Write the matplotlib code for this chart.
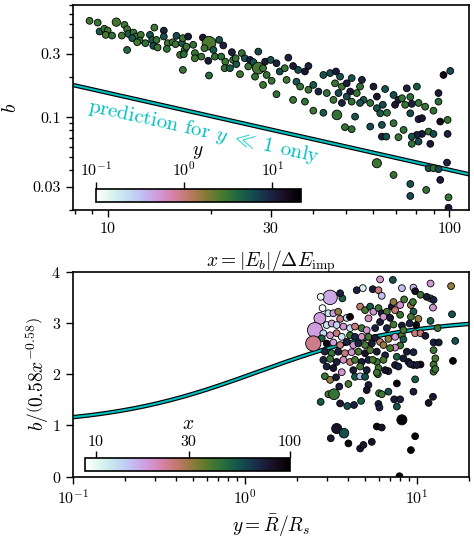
import numpy as np
import matplotlib
matplotlib.use("Agg")
import matplotlib.pyplot as plt
from matplotlib.colors import LogNorm
from matplotlib.ticker import FixedLocator, FixedFormatter, LogLocator, NullFormatter

plt.rcParams['font.family'] = 'serif'
plt.rcParams['font.serif'] = ['cmr10']
plt.rcParams['mathtext.fontset'] = 'cm'
plt.rcParams['axes.formatter.use_mathtext'] = True
plt.rcParams['axes.unicode_minus'] = False

# ---- top panel: b against x, colour = y ----
top_x = [8.85, 9.35, 10.6, 11.2, 9.47, 9.78, 10.0, 9.87, 10.3, 11.0,
         11.4, 11.5, 11.9, 12.1, 11.8, 12.5, 12.4, 12.2, 12.9, 13.3,
         13.7, 13.5, 13.9, 13.6, 14.0, 14.6, 14.6, 15.0, 14.9, 15.5,
         15.9, 15.8, 16.5, 16.8, 16.3, 11.4, 16.6, 16.6, 17.2, 17.8,
         17.0, 16.7, 18.0, 19.0, 19.8, 19.2, 20.4, 21.2, 21.8, 19.7,
         18.8, 20.6, 21.5, 22.1, 22.0, 19.8, 23.1, 23.3, 23.8, 24.4,
         24.7, 25.2, 26.1, 25.8, 26.7, 27.6, 27.6, 27.0, 28.5, 28.9,
         30.0, 31.2, 29.2, 28.5, 30.2, 31.9, 31.2, 23.7, 22.8, 18.0,
         33.0, 34.9, 36.1, 38.7, 37.8, 33.4, 35.7, 36.6, 38.7, 40.0,
         42.8, 44.8, 46.6, 46.3, 47.9, 41.4, 43.8, 47.4, 48.5, 50.1,
         51.8, 55.5, 54.8, 51.3, 50.1, 53.6, 56.1, 58.7, 61.4, 34.9,
         37.8, 45.8, 48.5, 51.8, 54.8, 40.0, 42.8, 46.9, 53.0, 58.7,
         49.5, 51.8, 61.4, 60.0, 64.9, 75.1, 80.4, 68.7, 71.0, 72.7,
         76.9, 69.4, 74.3, 77.7, 81.3, 85.0, 89.9, 93.0, 93.0, 94.1,
         98.9, 61.4, 63.9, 65.7, 62.8, 76.9, 81.3, 83.2, 68.7, 63.5,
         73.5, 83.2, 80.4, 87.0, 89.9, 77.7, 71.0, 63.5, 65.4, 81.3,
         77.7, 88.0, 98.9, 68.7, 98.5, 87.0, 89.9, 93.0, 94.1, 76.9,
         85.6, 76.9, 99.5, 99.5, 96.2, 100.7, 33.8]
top_b = [0.532, 0.516, 0.520, 0.496, 0.442, 0.463, 0.449, 0.417, 0.412, 0.412,
         0.460, 0.424, 0.434, 0.405, 0.394, 0.417, 0.378, 0.367, 0.361, 0.417,
         0.473, 0.382, 0.382, 0.345, 0.335, 0.449, 0.405, 0.361, 0.327, 0.367,
         0.410, 0.355, 0.361, 0.321, 0.295, 0.321, 0.227, 0.394, 0.405, 0.351,
         0.340, 0.298, 0.304, 0.398, 0.361, 0.331, 0.321, 0.382, 0.347, 0.266,
         0.286, 0.286, 0.286, 0.262, 0.234, 0.206, 0.309, 0.270, 0.251, 0.211,
         0.304, 0.278, 0.270, 0.241, 0.260, 0.312, 0.234, 0.202, 0.234, 0.262,
         0.270, 0.255, 0.208, 0.175, 0.188, 0.221, 0.149, 0.278, 0.234, 0.278,
         0.234, 0.243, 0.227, 0.243, 0.221, 0.191, 0.185, 0.170, 0.161, 0.175,
         0.208, 0.215, 0.221, 0.180, 0.202, 0.156, 0.152, 0.152, 0.170, 0.180,
         0.197, 0.191, 0.170, 0.156, 0.143, 0.152, 0.135, 0.128, 0.143, 0.135,
         0.131, 0.135, 0.128, 0.131, 0.128, 0.112, 0.108, 0.104, 0.101, 0.0850,
         0.0841, 0.0812, 0.0450, 0.170, 0.163, 0.165, 0.170, 0.147, 0.135, 0.139,
         0.142, 0.124, 0.124, 0.126, 0.128, 0.120, 0.112, 0.131, 0.152, 0.0927,
         0.0954, 0.117, 0.124, 0.108, 0.107, 0.107, 0.0966, 0.0983, 0.0901, 0.0875,
         0.0802, 0.0748, 0.0736, 0.0779, 0.0748, 0.0714, 0.0707, 0.0714, 0.0714, 0.0655,
         0.0630, 0.0630, 0.0748, 0.0367, 0.0455, 0.0413, 0.0413, 0.0406, 0.0337, 0.0314,
         0.0283, 0.0255, 0.0249, 0.0208, 0.208, 0.223, 0.281]
top_y = [2.9, 3.1, 2.8, 3.0, 5.0, 3.2, 3.0, 2.7, 3.3, 3.0,
         3.1, 4.8, 3.4, 2.9, 5.2, 3.0, 3.2, 2.8, 3.5, 5.5,
         3.0, 5.0, 3.3, 6.0, 3.1, 10.0, 5.5, 3.0, 3.4, 2.9,
         6.0, 3.2, 5.0, 3.6, 3.0, 4.0, 3.2, 3.0, 11.0, 3.3,
         3.0, 3.5, 3.2, 12.0, 2.6, 3.0, 5.0, 5.5, 10.0, 11.0,
         3.1, 3.3, 3.5, 3.0, 3.4, 3.8, 10.0, 3.2, 5.0, 3.0,
         3.3, 5.5, 10.5, 3.1, 5.5, 6.0, 2.8, 3.2, 3.0, 11.0,
         5.5, 10.0, 3.3, 3.0, 3.2, 6.0, 3.4, 3.1, 5.0, 3.0,
         3.2, 11.0, 6.0, 10.0, 12.0, 3.0, 5.5, 3.3, 3.1, 5.0,
         5.5, 6.0, 11.0, 3.2, 5.5, 10.0, 3.4, 6.0, 3.0, 11.0,
         5.5, 10.0, 3.3, 11.0, 6.0, 3.2, 5.0, 3.5, 12.0, 3.0,
         3.3, 3.1, 10.0, 3.4, 5.5, 3.0, 5.0, 3.2, 5.5, 6.0,
         3.2, 3.5, 3.0, 11.0, 5.5, 10.0, 5.0, 6.0, 11.0, 3.3,
         3.5, 12.0, 3.2, 10.0, 3.4, 3.1, 3.3, 3.5, 11.0, 17.0,
         3.2, 5.5, 6.0, 3.4, 5.0, 6.0, 10.0, 12.0, 3.2, 5.5,
         3.3, 11.0, 10.0, 3.4, 6.0, 5.5, 3.1, 10.0, 5.5, 6.0,
         3.3, 11.0, 10.0, 3.2, 10.0, 5.5, 3.4, 6.0, 11.0, 5.5,
         3.3, 6.0, 3.2, 12.0, 17.0, 6.0, 10.0]
top_w = [1, 1, 1.5, 1, 1, 1, 1, 1, 1, 1,
         1, 1, 1, 1, 1, 1, 1, 1, 1, 1,
         1, 1, 1, 1, 1, 1, 1, 1, 1, 1,
         1, 1, 1, 1, 1, 1, 1, 1, 1, 1,
         1, 1, 1, 1, 4, 1, 1, 1, 1, 1,
         1, 1, 1, 1, 1, 1, 1, 1, 1, 1,
         1, 1, 1, 1, 1, 1, 3, 1, 1, 1,
         1, 1, 1, 1, 1, 1, 1, 1, 1, 1,
         1, 1, 1, 1, 1, 1, 1, 1, 1, 1,
         1, 1, 1, 1, 1, 1, 1, 1, 1, 1,
         1, 1, 1, 1, 1, 1, 1, 1, 1, 1,
         1, 1, 1, 1, 1, 1, 1, 2.0, 1, 1,
         1, 1, 1.8, 1, 1, 1, 1, 1, 1, 1,
         1, 1, 1, 1, 1, 1, 1, 1, 1, 1,
         1, 1, 1, 1, 1, 1, 1, 1, 1, 1,
         1, 1, 1, 1, 1, 1, 1, 1, 1, 1,
         1, 1, 1, 1, 1, 1, 1, 1, 1, 1,
         1, 1, 1, 1, 1, 1, 1]

# ---- bottom panel: b/(0.58 x^-0.58) against y, colour = x ----
bot_y = [6.11, 7.25, 12.0, 15.8, 4.85, 4.47, 5.54, 5.98, 6.25, 8.18,
         9.55, 9.77, 10.5, 3.13, 2.76, 3.69, 2.83, 2.73, 3.06, 3.27,
         3.49, 3.58, 3.91, 4.09, 4.68, 5.00, 5.35, 5.59, 5.98, 6.25,
         5.23, 6.11, 2.99, 3.20, 3.42, 3.74, 4.09, 4.37, 4.78, 5.11,
         5.72, 2.56, 2.86, 3.13, 3.42, 3.66, 4.09, 4.37, 4.78, 5.23,
         5.72, 2.80, 2.50, 2.99, 3.27, 3.58, 3.91, 4.27, 4.57, 5.00,
         5.47, 6.11, 2.92, 3.20, 3.49, 3.82, 4.18, 4.57, 5.00, 5.35,
         5.85, 2.86, 3.13, 3.42, 3.74, 4.09, 4.37, 4.78, 5.23, 5.85,
         2.99, 3.27, 3.66, 4.27, 4.68, 5.11, 5.98, 7.15, 7.47, 7.99,
         9.23, 9.48, 12.0, 12.5, 12.4, 6.69, 9.55, 6.39, 6.99, 7.99,
         9.23, 10.2, 16.0, 12.0, 9.06, 9.91, 8.18, 7.31, 6.69, 13.2,
         9.77, 10.5, 11.2, 8.18, 7.47, 6.83, 12.5, 13.4, 16.7, 7.99,
         7.47, 6.39, 6.99, 8.74, 9.55, 12.5, 6.54, 7.65, 8.93, 10.5,
         9.55, 12.5, 16.2, 7.47, 6.83, 12.5, 6.39, 2.92, 3.13, 3.54,
         4.00, 4.37, 4.68, 5.00, 5.23, 5.93, 3.06, 3.30, 2.76, 3.58,
         3.94, 4.31, 4.74, 5.11, 6.03, 5.98, 6.06, 3.42, 3.77, 3.16,
         4.00, 4.68, 4.89, 5.47, 5.85, 6.25, 7.65, 6.83, 7.38, 7.99,
         7.65, 9.77, 9.55, 12.4, 11.7, 6.25, 8.18, 9.77, 9.23, 7.92,
         3.39, 5.54, 8.35, 7.81, 6.54, 5.85, 9.14, 10.0, 12.8, 12.8,
         11.4, 8.43, 7.31, 3.58, 8.35, 8.35]
bot_r = [3.85, 3.84, 3.77, 3.72, 3.68, 3.64, 3.66, 3.64, 3.53, 3.68,
         3.69, 3.62, 3.55, 3.50, 3.51, 3.48, 3.29, 3.09, 3.19, 3.19,
         3.22, 3.08, 3.10, 3.12, 3.32, 3.25, 3.32, 3.22, 3.29, 3.19,
         3.09, 3.02, 2.96, 2.99, 2.96, 2.93, 2.90, 2.93, 2.90, 2.86,
         2.90, 2.86, 2.80, 2.76, 2.80, 2.73, 2.76, 2.73, 2.73, 2.73,
         2.71, 2.70, 2.60, 2.60, 2.62, 2.57, 2.63, 2.57, 2.60, 2.57,
         2.60, 2.63, 2.44, 2.41, 2.44, 2.41, 2.43, 2.44, 2.41, 2.47,
         2.44, 2.28, 2.30, 2.24, 2.28, 2.24, 2.28, 2.24, 2.28, 2.24,
         2.15, 2.12, 2.04, 2.08, 2.15, 2.08, 2.12, 3.32, 3.25, 3.35,
         3.35, 3.41, 3.48, 3.45, 3.30, 3.22, 3.22, 3.12, 3.10, 3.16,
         3.12, 3.08, 3.17, 3.04, 2.99, 2.96, 2.95, 2.97, 2.90, 2.90,
         2.80, 2.80, 2.75, 2.76, 2.73, 2.69, 2.62, 2.62, 2.65, 2.56,
         2.52, 2.57, 2.51, 2.44, 2.43, 2.47, 2.37, 2.34, 2.24, 2.19,
         2.18, 2.19, 2.26, 2.18, 2.06, 2.05, 2.28, 1.96, 1.89, 1.76,
         1.81, 1.95, 1.96, 1.95, 1.79, 2.00, 1.61, 1.61, 1.46, 1.43,
         1.38, 1.40, 1.48, 1.69, 1.63, 1.42, 1.35, 0.94, 0.85, 0.75,
         0.65, 0.55, 0.62, 0.68, 0.98, 0.96, 1.82, 1.66, 1.51, 1.51,
         1.37, 1.90, 1.66, 1.56, 1.44, 1.61, 1.11, 0.79, 0.52, 0.01,
         1.94, 2.28, 2.31, 2.15, 2.08, 2.03, 2.20, 2.18, 2.31, 2.10,
         3.51, 3.46, 3.41, 3.58, 2.86, 2.68]
bot_x = [19, 55, 19, 31, 11, 72, 75, 25, 15, 15,
         16, 85, 42, 17, 9.5, 50, 9.0, 18, 12, 18,
         31, 25, 12.5, 92, 26, 40, 52, 19, 42, 72,
         20, 75, 12, 18, 13, 19, 12.5, 25, 40, 19,
         72, 18, 13, 19, 25, 12, 42, 70, 20, 40,
         75, 50, 24, 95, 18, 25, 72, 19, 70, 40,
         75, 26, 70, 42, 72, 25, 19, 40, 80, 38,
         75, 70, 42, 72, 20, 26, 40, 75, 70, 42,
         72, 80, 19, 75, 40, 72, 42, 75, 25, 19,
         31, 42, 40, 72, 19, 40, 52, 19, 75, 42,
         40, 31, 55, 50, 72, 92, 75, 40, 72, 42,
         25, 26, 75, 40, 19, 31, 72, 75, 55, 42,
         20, 31, 40, 75, 72, 42, 72, 50, 75, 92,
         72, 42, 95, 75, 72, 42, 40, 42, 31, 72,
         40, 52, 15, 55, 75, 42, 40, 42, 52, 75,
         55, 72, 52, 80, 42, 75, 72, 80, 55, 75,
         92, 80, 78, 80, 95, 80, 95, 55, 75, 72,
         55, 52, 75, 78, 80, 40, 95, 95, 95, 95,
         75, 40, 75, 72, 80, 42, 72, 75, 40, 42,
         75, 40, 31, 72, 40, 52]
bot_w = [1, 1, 1, 1, 1, 1, 1, 1, 1, 1,
         1, 1, 1, 4.5, 1, 1, 1, 3, 1, 1,
         1, 1, 1, 1, 1, 1, 1, 1, 1, 1,
         1, 1, 1, 1, 1, 1, 1, 1, 1, 1,
         1, 5, 1, 1, 1, 1, 1, 1, 1, 1,
         1, 1, 5, 1, 1, 1, 1, 1, 1, 1,
         1, 1, 1, 1, 1, 1, 1, 1, 1, 1,
         1, 1, 1, 1, 1, 1, 1, 1, 1, 1,
         1, 1, 1, 1, 1, 1, 1, 1, 1, 1,
         1, 1, 1, 1, 1, 1, 1, 1, 1, 1,
         1, 1, 1, 1, 1, 1, 1, 1, 1, 1,
         1, 1, 1, 1, 1, 1, 1, 1, 1, 1,
         1, 1, 1, 1, 1, 1, 1, 1, 1, 1,
         1, 1, 1, 1, 1, 1, 1, 1, 1, 1,
         1, 1, 1, 1, 1, 1, 1, 2.5, 1, 1,
         1, 1, 1, 1, 1, 1, 1, 2.2, 2, 1,
         1, 1, 1, 1, 1, 1, 1, 1, 1, 1,
         1, 1, 1, 1, 1, 1, 2.2, 1, 1, 1,
         1, 1, 1, 1, 1, 1, 1, 1, 1, 1,
         1, 1, 1, 1, 1, 1]


def b_small_y(x):
    return 0.58 * x ** -0.58


def ratio_pred(y):
    return 1 + 2.1 * y / (y + 1.2)


fig = plt.figure(figsize=(4.74, 5.38), dpi=100)
ax1 = fig.add_axes([0.1534, 0.6097, 0.8354, 0.381])
ax2 = fig.add_axes([0.1534, 0.1139, 0.8354, 0.381])

base_s = 24
sc1 = ax1.scatter(top_x, top_b, c=top_y, s=base_s * np.array(top_w),
                  cmap='cubehelix_r', norm=LogNorm(0.1, 21),
                  edgecolors='k', linewidths=0.6, zorder=3)
xs = np.logspace(np.log10(7), np.log10(120), 200)
ax1.plot(xs, b_small_y(xs), color='k', lw=3.2, zorder=2)
ax1.plot(xs, b_small_y(xs), color='c', lw=1.5, zorder=2.1)
ax1.text(0.038, 0.48, r'prediction for $y\;\ll\;1$ only', transform=ax1.transAxes,
         rotation=-12.5, rotation_mode='anchor', color='c', fontsize=15,
         ha='left', va='baseline')

ax1.set_xscale('log')
ax1.set_yscale('log')
ax1.set_xlim(7.9, 114)
ax1.set_ylim(0.02, 0.70)
ax1.xaxis.set_major_locator(FixedLocator([10, 30, 100]))
ax1.xaxis.set_major_formatter(FixedFormatter(['10', '30', '100']))
ax1.xaxis.set_minor_locator(LogLocator(subs=np.arange(2, 10)))
ax1.xaxis.set_minor_formatter(NullFormatter())
ax1.yaxis.set_major_locator(FixedLocator([0.03, 0.1, 0.3]))
ax1.yaxis.set_major_formatter(FixedFormatter(['0.03', '0.1', '0.3']))
ax1.yaxis.set_minor_locator(LogLocator(subs=np.arange(2, 10)))
ax1.yaxis.set_minor_formatter(NullFormatter())
ax1.set_xlabel(r'$x = |E_b|/\Delta E_{\rm imp}$', fontsize=14, labelpad=9)
ax1.set_ylabel(r'$b$', fontsize=14, labelpad=9)

sc2 = ax2.scatter(bot_y, bot_r, c=bot_x, s=base_s * np.array(bot_w),
                  cmap='cubehelix_r', norm=LogNorm(8.8, 100),
                  edgecolors='k', linewidths=0.6, zorder=3)
ys = np.logspace(-1, np.log10(20), 200)
ax2.plot(ys, ratio_pred(ys), color='k', lw=3.2, zorder=2)
ax2.plot(ys, ratio_pred(ys), color='c', lw=1.5, zorder=2.1)
ax2.set_xscale('log')
ax2.set_xlim(0.1, 20)
ax2.set_ylim(0, 4)
ax2.set_yticks([0, 1, 2, 3, 4])
ax2.set_xlabel(r'$y = \bar{R}/R_s$', fontsize=14)
ax2.set_ylabel(r'$b/\left(0.58x^{-0.58}\right)$', fontsize=14, labelpad=0)

for ax in (ax1, ax2):
    ax.tick_params(which='both', direction='out', width=1.0, labelsize=11.5)
    ax.tick_params(which='major', length=5)
    ax.tick_params(which='minor', length=3)
    for sp in ax.spines.values():
        sp.set_linewidth(1.2)

cax1 = fig.add_axes([0.2019, 0.6251, 0.4325, 0.0242])
cb1 = fig.colorbar(sc1, cax=cax1, orientation='horizontal')
cb1.minorticks_off()
cb1.set_ticks([0.1, 1, 10])
cax1.xaxis.set_ticks_position('top')
cax1.xaxis.set_label_position('top')
cb1.set_label(r'$y$', fontsize=14, labelpad=4)
cb1.outline.set_linewidth(1.2)
cax1.tick_params(labelsize=11.5, width=1.0, length=5, pad=2)

cax2 = fig.add_axes([0.18, 0.1251, 0.4319, 0.023])
cb2 = fig.colorbar(sc2, cax=cax2, orientation='horizontal')
cb2.minorticks_off()
cb2.set_ticks([10, 30, 100])
cb2.set_ticklabels(['10', '30', '100'])
cax2.xaxis.set_ticks_position('top')
cax2.xaxis.set_label_position('top')
cb2.set_label(r'$x$', fontsize=14, labelpad=4)
cb2.outline.set_linewidth(1.2)
cax2.tick_params(labelsize=11.5, width=1.0, length=5, pad=2)

fig.savefig('out.png', dpi=100)
